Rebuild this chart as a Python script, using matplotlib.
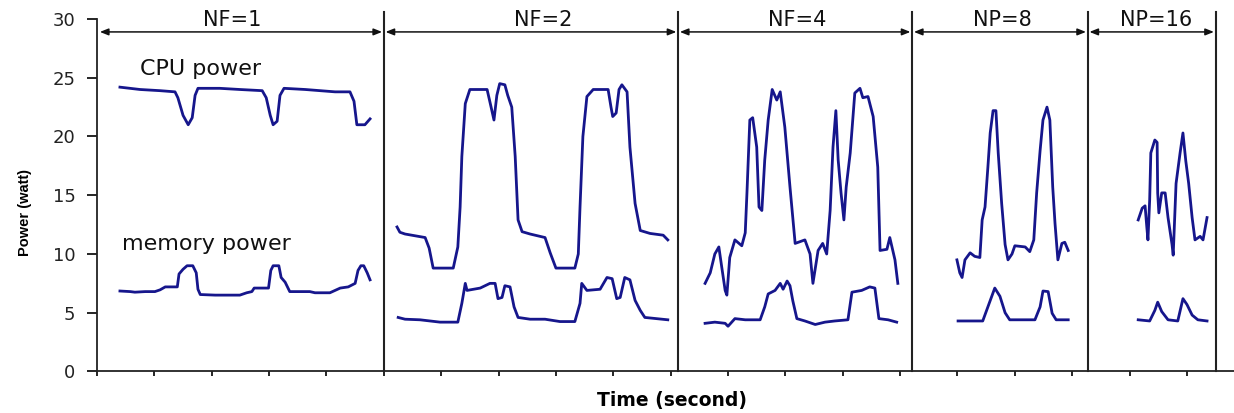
import matplotlib
matplotlib.use("Agg")
import matplotlib.pyplot as plt

# ---- measured traces (time in tick units, power in watts) ----
cpu_np1_t = [0.40, 0.75, 1.10, 1.36, 1.41, 1.50, 1.59, 1.66, 1.71, 1.76, 2.14, 2.49, 2.88, 2.95,
             3.02, 3.07, 3.14, 3.19, 3.26, 3.63, 3.89, 4.15, 4.41, 4.48, 4.53, 4.67, 4.76]
cpu_np1_w = [24.2, 24.0, 23.9, 23.8, 23.3, 21.8, 21.0, 21.6, 23.5, 24.1, 24.1, 24.0, 23.9, 23.3,
             21.8, 21.0, 21.3, 23.5, 24.1, 24.0, 23.9, 23.8, 23.8, 23.0, 21.0, 21.0, 21.5]
mem_np1_t = [0.40, 0.58, 0.66, 0.84, 1.01, 1.10, 1.19, 1.40, 1.43, 1.50, 1.57, 1.67, 1.73, 1.76,
             1.80, 2.06, 2.49, 2.61, 2.70, 2.74, 2.99, 3.03, 3.07, 3.17, 3.21, 3.28, 3.36, 3.71,
             3.80, 4.06, 4.15, 4.24, 4.38, 4.50, 4.55, 4.60, 4.65, 4.71, 4.76]
mem_np1_w = [6.85, 6.8, 6.75, 6.8, 6.8, 6.95, 7.2, 7.2, 8.3, 8.7, 9.0, 9.0, 8.4, 7.0,
             6.55, 6.5, 6.5, 6.7, 6.8, 7.1, 7.1, 8.6, 9.0, 9.0, 8.0, 7.6, 6.8, 6.8,
             6.7, 6.7, 6.9, 7.1, 7.2, 7.5, 8.6, 9.0, 9.0, 8.4, 7.8]

cpu_np2_t = [5.23, 5.28, 5.37, 5.72, 5.79, 5.86, 6.21, 6.29, 6.33, 6.36, 6.42, 6.50, 6.80, 6.87,
             6.92, 6.97, 7.02, 7.11, 7.16, 7.23, 7.29, 7.34, 7.41, 7.55, 7.81, 7.90, 8.00, 8.33,
             8.39, 8.42, 8.47, 8.54, 8.65, 8.91, 8.96, 8.99, 9.05, 9.10, 9.15, 9.24, 9.29, 9.38,
             9.47, 9.64, 9.87, 9.95]
cpu_np2_w = [12.3, 11.85, 11.7, 11.4, 10.5, 8.8, 8.8, 10.6, 14.0, 18.3, 22.8, 24.0, 24.0, 22.5,
             21.4, 23.5, 24.5, 24.4, 23.5, 22.5, 18.3, 12.9, 11.9, 11.7, 11.4, 10.1, 8.8, 8.8,
             10.0, 14.0, 20.0, 23.4, 24.0, 24.0, 22.5, 21.7, 22.0, 24.0, 24.4, 23.8, 19.1, 14.3,
             12.0, 11.75, 11.6, 11.2]
mem_np2_t = [5.25, 5.37, 5.63, 5.98, 6.29, 6.36, 6.42, 6.45, 6.68, 6.85, 6.94, 6.99, 7.06, 7.11,
             7.20, 7.27, 7.34, 7.55, 7.81, 8.07, 8.33, 8.42, 8.45, 8.54, 8.77, 8.89, 8.98, 9.06,
             9.12, 9.20, 9.29, 9.38, 9.47, 9.55, 9.95]
mem_np2_w = [4.6, 4.45, 4.4, 4.2, 4.2, 5.8, 7.5, 6.9, 7.1, 7.5, 7.5, 6.2, 6.3, 7.3,
             7.2, 5.5, 4.6, 4.45, 4.45, 4.25, 4.25, 5.8, 7.5, 6.9, 7.0, 8.0, 7.9, 6.2,
             6.3, 8.0, 7.8, 6.05, 5.2, 4.6, 4.4]

cpu_np4_t = [10.60, 10.69, 10.77, 10.84, 10.89, 10.95, 10.98, 11.03, 11.12, 11.24, 11.30, 11.33,
             11.38, 11.43, 11.50, 11.54, 11.59, 11.64, 11.70, 11.77, 11.85, 11.91, 11.99, 12.08,
             12.17, 12.34, 12.43, 12.48, 12.57, 12.65, 12.72, 12.78, 12.83, 12.88, 12.92, 12.97,
             13.02, 13.06, 13.13, 13.21, 13.30, 13.35, 13.44, 13.53, 13.61, 13.65, 13.77, 13.82,
             13.91, 13.96]
cpu_np4_w = [7.5, 8.4, 10.0, 10.6, 8.9, 6.9, 6.5, 9.7, 11.2, 10.7, 11.8, 15.2,
             21.4, 21.6, 19.1, 14.0, 13.7, 18.0, 21.4, 24.0, 23.1, 23.8, 20.8, 15.7,
             10.9, 11.2, 10.0, 7.5, 10.3, 10.9, 10.0, 13.7, 19.1, 22.2, 18.0, 15.2,
             12.9, 15.7, 18.6, 23.7, 24.1, 23.3, 23.4, 21.7, 17.4, 10.3, 10.4, 11.4,
             9.5, 7.5]
mem_np4_t = [10.60, 10.77, 10.95, 11.00, 11.12, 11.30, 11.56, 11.64, 11.70, 11.82, 11.91, 11.96,
             12.03, 12.08, 12.13, 12.20, 12.34, 12.52, 12.69, 12.86, 13.09, 13.16, 13.33, 13.47,
             13.56, 13.63, 13.79, 13.94]
mem_np4_w = [4.1, 4.2, 4.1, 3.85, 4.5, 4.4, 4.4, 5.5, 6.6, 6.9, 7.5, 7.0,
             7.7, 7.3, 6.0, 4.5, 4.3, 4.0, 4.2, 4.3, 4.4, 6.75, 6.9, 7.2,
             7.1, 4.5, 4.4, 4.2]

cpu_np8_t = [14.99, 15.04, 15.08, 15.13, 15.22, 15.30, 15.39, 15.43, 15.48, 15.53, 15.57, 15.62,
             15.67, 15.71, 15.77, 15.83, 15.88, 15.95, 16.00, 16.18, 16.26, 16.33, 16.38, 16.44,
             16.49, 16.56, 16.61, 16.66, 16.70, 16.75, 16.82, 16.87, 16.93]
cpu_np8_w = [9.5, 8.4, 8.0, 9.5, 10.1, 9.8, 9.7, 12.9, 14.0, 17.4, 20.3, 22.2,
             22.2, 18.6, 14.3, 10.8, 9.5, 10.0, 10.7, 10.6, 10.2, 11.2, 15.2, 18.8,
             21.4, 22.5, 21.4, 15.7, 12.6, 9.5, 10.9, 11.0, 10.3]
mem_np8_t = [15.01, 15.44, 15.53, 15.65, 15.74, 15.83, 15.91, 16.35, 16.44, 16.49, 16.58, 16.65,
             16.72, 16.93]
mem_np8_w = [4.3, 4.3, 5.5, 7.1, 6.4, 5.0, 4.4, 4.4, 5.5, 6.85, 6.8, 4.95,
             4.4, 4.4]

cpu_np16_t = [18.15, 18.22, 18.27, 18.30, 18.32, 18.35, 18.37, 18.44, 18.48, 18.49, 18.51, 18.56,
              18.62, 18.67, 18.74, 18.76, 18.81, 18.88, 18.93, 18.98, 19.03, 19.09, 19.14, 19.23,
              19.28, 19.35]
cpu_np16_w = [12.9, 13.9, 14.1, 12.3, 11.2, 14.6, 18.6, 19.7, 19.5, 15.2, 13.5, 15.2,
              15.2, 13.1, 10.8, 9.9, 16.0, 18.6, 20.3, 17.9, 16.0, 13.1, 11.2, 11.5,
              11.2, 13.1]
mem_np16_t = [18.15, 18.35, 18.44, 18.49, 18.56, 18.67, 18.84, 18.93, 19.00, 19.09, 19.19, 19.35]
mem_np16_w = [4.4, 4.3, 5.2, 5.9, 5.1, 4.4, 4.3, 6.2, 5.7, 4.8, 4.4, 4.3]

# run boundaries and their labels
run_bounds = [0.0, 5.0, 10.13, 14.21, 17.27, 19.5]
run_labels = ["NF=1", "NF=2", "NF=4", "NP=8", "NP=16"]
run_label_x = [2.35, 7.77, 12.2, 15.78, 18.47]

y_ticks = [0, 5, 10, 15, 20, 25, 30]
x_ticks = list(range(20))

LINE = "#16168c"
FONT = "DejaVu Sans"
plt.rcParams["font.family"] = FONT

fig = plt.figure(figsize=(12.34, 4.13), dpi=100)
ax = fig.add_axes([0.0786, 0.1005, 0.9214, 0.8535])

traces = [
    (cpu_np1_t, cpu_np1_w), (mem_np1_t, mem_np1_w),
    (cpu_np2_t, cpu_np2_w), (mem_np2_t, mem_np2_w),
    (cpu_np4_t, cpu_np4_w), (mem_np4_t, mem_np4_w),
    (cpu_np8_t, cpu_np8_w), (mem_np8_t, mem_np8_w),
    (cpu_np16_t, cpu_np16_w), (mem_np16_t, mem_np16_w),
]
for t, w in traces:
    ax.plot(t, w, color=LINE, lw=2.0, solid_joinstyle="round")

ax.set_xlim(0, 19.82)
ax.set_ylim(0, 30)
ax.set_yticks(y_ticks)
ax.set_xticks(x_ticks)
ax.set_xticklabels([])
ax.tick_params(axis="y", direction="out", length=7, width=1.2, pad=8.5,
               labelsize=13, labelcolor="#222222")
ax.tick_params(axis="x", direction="out", length=3.6, width=1.2)
for side in ("top", "right"):
    ax.spines[side].set_visible(False)
for side in ("left", "bottom"):
    ax.spines[side].set_linewidth(1.3)
    ax.spines[side].set_color("#222222")

# separators between runs
for xb in run_bounds[1:]:
    ax.plot([xb, xb], [0, 30.6], color="#222222", lw=1.5, clip_on=False)

# span arrows and run labels
for i, lab in enumerate(run_labels):
    x0 = run_bounds[i] + (0.05 if i == 0 else 0.03)
    x1 = run_bounds[i + 1] - 0.03
    ax.annotate("", xy=(x1, 28.9), xytext=(x0, 28.9),
                arrowprops=dict(arrowstyle="<|-|>,head_length=0.5,head_width=0.2",
                                color="#111111", lw=1.1, shrinkA=0, shrinkB=0),
                annotation_clip=False)
    ax.text(run_label_x[i], 29.95, lab, ha="center", va="center", fontsize=15,
            color="#111111", clip_on=False)

ax.text(0.75, 25.23, "CPU power", ha="left", va="baseline", fontsize=16, color="#111111")
ax.text(0.44, 10.3, "memory power", ha="left", va="baseline", fontsize=16, color="#111111")

ax.set_ylabel("Power (watt)", fontsize=10.5, fontweight="bold", family="Liberation Sans")
ax.yaxis.set_label_coords(-0.057, 0.45)
ax.set_xlabel("Time (second)", fontsize=13.5, fontweight="bold")
ax.xaxis.set_label_coords(0.506, -0.055)

fig.savefig("out.png", dpi=100)
